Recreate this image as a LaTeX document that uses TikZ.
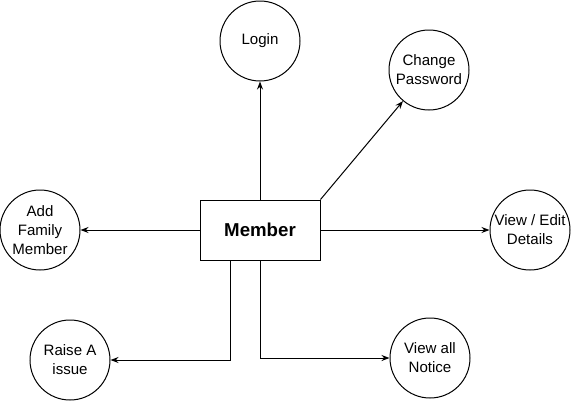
\documentclass[tikz,border=0pt]{standalone}
\usepackage{fontspec}
\setmainfont{Liberation Sans}
\usetikzlibrary{arrows.meta}

\begin{document}
\begin{tikzpicture}
  [x=0.75pt,y=-0.75pt,line width=0.75pt,>={Stealth[length=6pt,width=4.5pt]},
   every node/.style={circle,draw,minimum size=60pt,inner sep=0pt,align=center,font=\fontsize{11.3}{14.3}\selectfont}]
  \useasboundingbox (0,0) rectangle (571,401);
  \node [rectangle,minimum width=90pt,minimum height=45pt,font=\bfseries\fontsize{14}{16}\selectfont] (mem) at (260,230) {Member};
  \node (n1) at (260,41) {Login};
  \node (n2) at (429,70) {Change\\Password};
  \node (n3) at (40,230) {Add\\Family\\Member};
  \node (n4) at (530,230) {View / Edit\\Details};
  \node (n5) at (70,360) {Raise A\\issue};
  \node (n6) at (430,358) {View all\\Notice};

  \foreach \from/\to in {mem/n1,mem.north east/n2,mem/n3,mem/n4}
    \draw [->] (\from) -- (\to);
  \draw [->] ([xshift=-22.5pt]mem.south) |- (n5);
  \draw [->] (mem.south) |- (n6);

\end{tikzpicture}
\end{document}
